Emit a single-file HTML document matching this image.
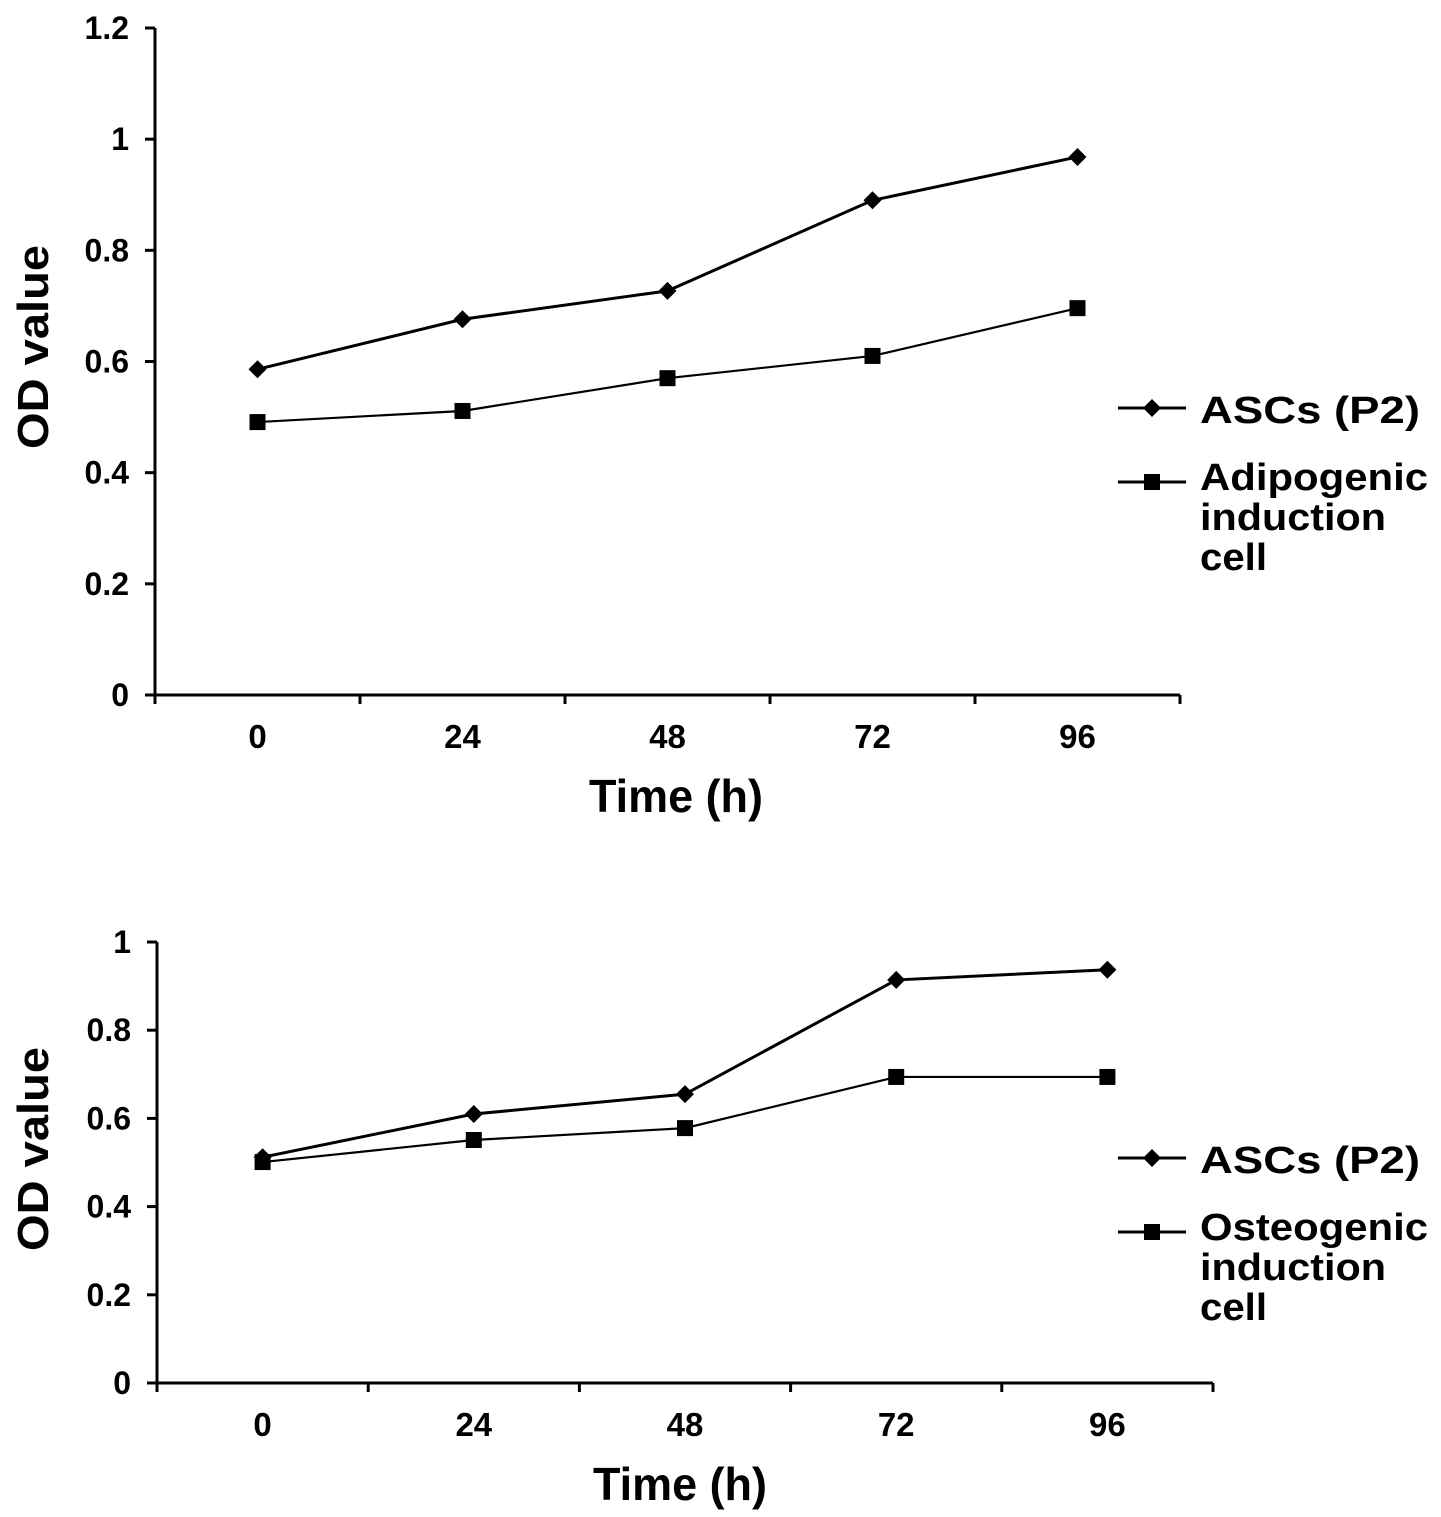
<!DOCTYPE html>
<html><head><meta charset="utf-8"><style>
html,body{margin:0;padding:0;background:#fff;}
svg{display:block;font-family:"Liberation Sans",Arial,sans-serif;font-weight:bold;}
</style></head><body>
<svg id="c" width="1441" height="1517" viewBox="0 0 1441 1517"></svg>
<script>
const categories = ["0","24","48","72","96"];
const topAsc = [0.586,0.676,0.727,0.89,0.968];
const topAdipo = [0.491,0.511,0.570,0.610,0.696];
const topTicks = [0,0.2,0.4,0.6,0.8,1,1.2];
const topTickLabels = ["0","0.2","0.4","0.6","0.8","1","1.2"];
const botAsc = [0.512,0.61,0.655,0.914,0.937];
const botOsteo = [0.501,0.551,0.578,0.694,0.694];
const botTicks = [0,0.2,0.4,0.6,0.8,1];
const botTickLabels = ["0","0.2","0.4","0.6","0.8","1"];

const NS="http://www.w3.org/2000/svg";
const svg=document.getElementById('c');
function mk(tag,attrs,parent,text){const e=document.createElementNS(NS,tag);for(const k in attrs)e.setAttribute(k,attrs[k]);if(text!==undefined)e.textContent=text;(parent||svg).appendChild(e);return e;}
function wide(attrs,len){attrs.textLength=len;attrs.lengthAdjust='spacingAndGlyphs';return attrs;}

function chart(o){
  const g=mk('g',{});
  
  
  const yScale=v=>o.y0-(v/o.ymax)*(o.y0-o.yTop);
  const band=(o.xRight-o.xLeft)/categories.length;
  const xScale=i=>o.xLeft+band*(i+0.5);
  const ax=mk('path',{d:`M${o.xLeft},${o.yTop} V${o.y0} H${o.xRight}`,stroke:'#000','stroke-width':3,fill:'none'},g);
  
  
  o.ticks.forEach((t,i)=>{
    const y=yScale(t);
    mk('line',{x1:o.xLeft-10,x2:o.xLeft,y1:y,y2:y,stroke:'#000','stroke-width':3},g);
    const tl=mk('text',{x:o.xLeft-26,y:y+11,'text-anchor':'end','font-size':32},g,o.tickLabels[i]);
    
    
  });
  for(let i=0;i<=categories.length;i++){
    const x=o.xLeft+band*i;
    mk('line',{x1:x,x2:x,y1:o.y0,y2:o.y0+9,stroke:'#000','stroke-width':3},g);
  }
  categories.forEach((c,i)=>{
    const tl=mk('text',{x:xScale(i),y:o.y0+53,'text-anchor':'middle','font-size':33},g,c);
    
    
  });
  const xt=mk('text',wide({x:o.titleX-87,y:o.y0+117,'font-size':46},174),g,'Time (h)');
  
  
  const yc=o.yTitleC;
  const yt=mk('text',wide({x:-102,y:0,transform:`translate(48,${yc}) rotate(-90)`,'font-size':44},204),g,'OD value');
  
  
  function series(vals,marker,name,sw){
    const p=mk('polyline',{points:vals.map((v,i)=>xScale(i)+','+yScale(v)).join(' '),stroke:'#000','stroke-width':sw,fill:'none'},g);
    
    
    vals.forEach((v,i)=>{
      const m=drawMarker(g,marker,xScale(i),yScale(v));
      
      
    });
  }
  series(o.s1,'diamond','ascs-p2',3);
  series(o.s2,'square',o.s2name,2.2);
  const lx=1118, tx=1200;
  const l1=mk('g',{},g);
  
  
  mk('line',{x1:lx,x2:lx+68,y1:o.leg1,y2:o.leg1,stroke:'#000','stroke-width':3},l1);
  drawMarker(l1,'diamond',lx+34,o.leg1);
  mk('text',wide({x:tx,y:o.leg1+15,'font-size':38},220),l1,'ASCs (P2)');
  const l2=mk('g',{},g);
  
  
  mk('line',{x1:lx,x2:lx+68,y1:o.leg2,y2:o.leg2,stroke:'#000','stroke-width':3},l2);
  drawMarker(l2,'square',lx+34,o.leg2);
  const lens=[228,186,67];
  o.s2label.forEach((t,i)=>mk('text',wide({x:tx,y:o.leg2+8+i*40,'font-size':38},lens[i]),l2,t));
}
function drawMarker(g,type,x,y){
  if(type==='diamond')return mk('path',{d:`M${x},${y-9} L${x+9},${y} L${x},${y+9} L${x-9},${y} Z`,fill:'#000'},g);
  return mk('rect',{x:x-8,y:y-8,width:16,height:16,fill:'#000'},g);
}
chart({name:'adipogenic-chart',xLeft:155,xRight:1180,yTop:28,y0:695,ymax:1.2,ticks:topTicks,tickLabels:topTickLabels,s1:topAsc,s2:topAdipo,s2name:'adipogenic',s2label:['Adipogenic','induction','cell'],leg1:408,leg2:482,titleX:676,yTitleC:347});
chart({name:'osteogenic-chart',xLeft:157,xRight:1213,yTop:942,y0:1383,ymax:1,ticks:botTicks,tickLabels:botTickLabels,s1:botAsc,s2:botOsteo,s2name:'osteogenic',s2label:['Osteogenic','induction','cell'],leg1:1158,leg2:1232,titleX:680,yTitleC:1149});
</script>
</body></html>
